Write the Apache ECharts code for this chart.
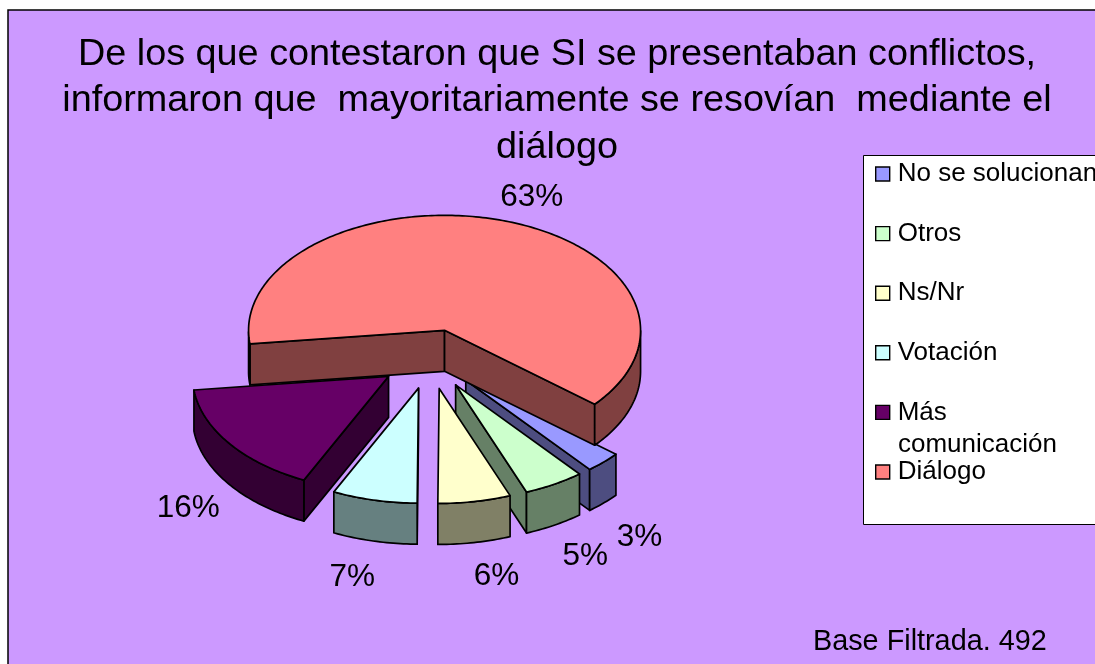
<!DOCTYPE html>
<html><head><meta charset="utf-8">
<style>html,body{margin:0;padding:0;background:#fff}#c{width:1095px;height:664px}</style>
<script src="https://cdn.jsdelivr.net/npm/echarts@6/dist/echarts.min.js"></script>
</head><body><div id="c"></div>
<script>
const categories = ['No se solucionan','Otros','Ns/Nr','Votación','Más comunicación','Diálogo'];
const percents = [3,5,6,7,16,63];
const faceColors = ['#9999FF','#CCFFCC','#FFFFCC','#CCFFFF','#660066','#FF8080'];
const sideColors = ['#4D4D80','#668066','#808066','#668080','#330033','#804040'];
const paintOrder = [1,2,5,6,4,3]; // painter's z per category
const titleText = 'De los que contestaron que SI se presentaban conflictos,\ninformaron que  mayoritariamente se resovían  mediante el\ndiálogo';
const noteText = 'Base Filtrada. 492';

const PIE = {cx:430, cy:359, rx:196, ry:115, depth:41, explode:0.26, startDeg:40,
  labelNudge:[[-4,7],[-9,0],[-2,0],[4,2],[-1,0],[2,1]]};
const FONT = 'Liberation Sans, Arial, sans-serif';
const total = percents.reduce((a,b)=>a+b,0);
const rad = d => d*Math.PI/180;

function renderSlice(i){
  return function(params, api){
    const value = api.value(0);
    let before = 0; for(let k=0;k<i;k++) before += percents[k];
    const a0 = PIE.startDeg + before/total*360;
    const a1 = a0 + value/total*360;
    const mid = rad((a0+a1)/2);
    const ox = PIE.cx + PIE.explode*PIE.rx*Math.cos(mid);
    const oy = PIE.cy + PIE.explode*PIE.ry*Math.sin(mid);
    const P = (deg,h)=>[ox+PIE.rx*Math.cos(rad(deg)), oy+PIE.ry*Math.sin(rad(deg))+(h||0)];
    const line = {stroke:'#000', lineWidth:1.7, lineJoin:'round'};
    const kids = [];
    const poly = (pts,fill)=>kids.push({type:'polygon',shape:{points:pts},style:Object.assign({fill:fill},line)});
    const D = PIE.depth;
    // radial cut faces
    if(Math.cos(rad(a0))<0) poly([[ox,oy],P(a0),P(a0,D),[ox,oy+D]], sideColors[i]);
    if(Math.cos(rad(a1))>0) poly([[ox,oy],P(a1),P(a1,D),[ox,oy+D]], sideColors[i]);
    // outer wall: only the front-facing runs of the arc
    let run = [];
    const flush = ()=>{ if(run.length>1){
      const top = run.map(d=>P(d)), bot = run.slice().reverse().map(d=>P(d,D));
      poly(top.concat(bot), sideColors[i]); } run=[]; };
    for(let d=a0;;d+=1){
      const dd = Math.min(d,a1);
      if(Math.sin(rad(dd))>=0) run.push(dd); else flush();
      if(dd>=a1) break;
    }
    flush();
    // top face
    const top=[[ox,oy]];
    for(let d=a0;;d+=1){const dd=Math.min(d,a1); top.push(P(dd)); if(dd>=a1) break;}
    poly(top, faceColors[i]);
    // percentage label
    const c=Math.cos(mid), s=Math.sin(mid);
    const lx = ox + PIE.rx*c + Math.sign(c)*Math.min(40,15+50*Math.abs(c)) + PIE.labelNudge[i][0];
    const ly = oy + 1.22*PIE.ry*s + (s>0?50:0) + PIE.labelNudge[i][1];
    kids.push({type:'text',x:lx,y:ly,style:{text:value+'%',fill:'#000',font:'31.5px '+FONT,align:'center',verticalAlign:'middle'}});
    return {type:'group',children:kids};
  };
}

const chart = echarts.init(document.getElementById('c'),null,{renderer:'canvas'});
chart.setOption({
  animation:false,
  backgroundColor:'#fff',
  title:[
    {text:titleText,left:552,top:26,textAlign:'center',
     textStyle:{fontFamily:FONT,fontSize:37.8,fontWeight:'normal',color:'#000',lineHeight:46.5}},
    {text:noteText,left:813,top:628,padding:0,
     textStyle:{fontFamily:FONT,fontSize:28.8,fontWeight:'normal',color:'#000'}}
  ],
  graphic:[
    {type:'rect',z:0,silent:true,shape:{x:8,y:10,width:1200,height:800},style:{fill:'#CC99FF',stroke:'#000',lineWidth:1.5}},
    {type:'rect',z:1,silent:true,shape:{x:863.5,y:155.5,width:300,height:369},style:{fill:'#fff',stroke:'#000',lineWidth:1}},
    {type:'text',z:5,silent:true,x:898,y:432,style:{text:'comunicación',fill:'#000',font:'26px '+FONT}}
  ],
  legend:{
    orient:'vertical',left:875,top:161,padding:0,itemWidth:14,itemHeight:14,itemGap:33.6,icon:'rect',
    selectedMode:false,data:categories,
    formatter:n=>n.split(' ')[0]==='Más'?'Más':n,
    itemStyle:{borderColor:'#000',borderWidth:1.4},
    textStyle:{fontFamily:FONT,fontSize:26,color:'#000',lineHeight:26,padding:[0,0,0,3]}
  },
  series:categories.map((name,i)=>({
    type:'custom',name:name,coordinateSystem:'none',silent:true,z:2+paintOrder[i]-1,
    itemStyle:{color:faceColors[i]},
    encode:{value:0},
    data:[[percents[i]]],
    renderItem:renderSlice(i)
  }))
});
</script></body></html>
